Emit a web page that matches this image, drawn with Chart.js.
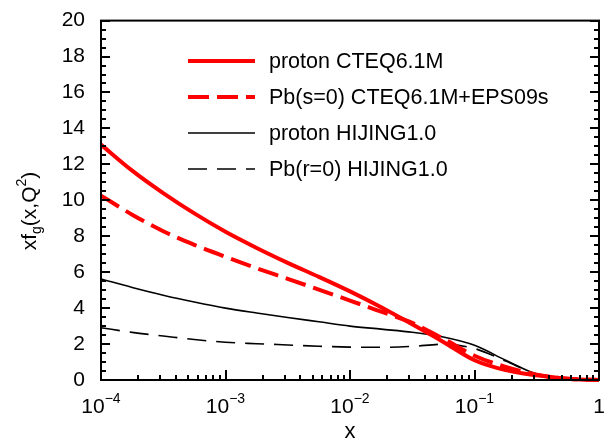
<!DOCTYPE html>
<html><head><meta charset="utf-8">
<script src="https://cdn.jsdelivr.net/npm/chart.js@4/dist/chart.umd.min.js"></script>
<style>html,body{margin:0;padding:0;background:#fff;}</style>
</head><body>
<canvas id="c" width="612" height="441"></canvas>
<script>
// ---- data ----
const xValues      = [0.0001, 0.000178, 0.000316, 0.000562, 0.001, 0.00178, 0.00316, 0.00562, 0.01, 0.0178, 0.0316, 0.0562, 0.1, 0.178, 0.316, 0.5, 0.708, 1.0];
const protonCTEQ   = [13.1, 11.65, 10.4, 9.27, 8.25, 7.35, 6.52, 5.74, 4.93, 4.05, 3.1, 2.12, 1.1, 0.55, 0.26, 0.1, 0.03, 0.0];
const pbEPS09      = [10.26, 9.2, 8.28, 7.52, 6.85, 6.22, 5.63, 5.03, 4.42, 3.8, 3.18, 2.3, 1.35, 0.73, 0.3, 0.1, 0.03, 0.0];
const protonHIJING = [5.62, 5.15, 4.72, 4.34, 4.0, 3.73, 3.48, 3.24, 3.0, 2.83, 2.66, 2.39, 1.93, 1.1, 0.33, 0.05, 0.01, 0.0];
const pbHIJING     = [2.91, 2.65, 2.45, 2.25, 2.1, 2.02, 1.95, 1.88, 1.83, 1.82, 1.87, 1.99, 1.75, 1.05, 0.33, 0.05, 0.01, 0.0];
const seriesLabels = ['proton CTEQ6.1M', 'Pb(s=0) CTEQ6.1M+EPS09s', 'proton HIJING1.0', 'Pb(r=0) HIJING1.0'];
const xTickValues  = [0.0001, 0.001, 0.01, 0.1, 1];
const xTickBase    = ['10', '10', '10', '10', '1'];
const xTickExp     = ['\u22124', '\u22123', '\u22122', '\u22121', ''];
const yMin = 0, yMax = 20, yStep = 2;
const xTitle = 'x';

const FONT = '"Liberation Sans", Arial, Helvetica, sans-serif';

function pts(arr){ return xValues.map((x,i)=>({x:x, y:arr[i]})); }

const seriesValues = [protonCTEQ, pbEPS09, protonHIJING, pbHIJING];
const styles = [
  {borderColor:'#ff0000', borderWidth:4, borderDash:[]},
  {borderColor:'#ff0000', borderWidth:4, borderDash:[21,8]},
  {borderColor:'#000000', borderWidth:1.6, borderDash:[]},
  {borderColor:'#000000', borderWidth:1.6, borderDash:[19,10]}
];

const datasets = seriesValues.map((arr,i)=>Object.assign({
  label: seriesLabels[i],
  data: pts(arr),
  pointRadius: 0,
  fill: false,
  cubicInterpolationMode: 'monotone',
  clip: false
}, styles[i]));

const framePlugin = {
  id: 'frame',
  afterDraw(chart){
    const ctx = chart.ctx, a = chart.chartArea;
    const xs = chart.scales.x, ys = chart.scales.y;
    ctx.save();
    ctx.strokeStyle = '#000'; ctx.lineWidth = 2;
    ctx.strokeRect(a.left, a.top, a.right - a.left, a.bottom - a.top);
    // y ticks (left and right, inward)
    ctx.lineWidth = 2;
    ctx.beginPath();
    for (let v = yMin; v <= yMax + 1e-9; v += 0.5) {
      const py = Math.round(ys.getPixelForValue(v));
      const len = (Math.abs(v % yStep) < 1e-9) ? 9 : 5;
      ctx.moveTo(a.left, py); ctx.lineTo(a.left + len, py);
      ctx.moveTo(a.right, py); ctx.lineTo(a.right - len, py);
    }
    // x ticks (bottom, inward)
    for (let d = -4; d <= -1; d++) {
      for (let m = 1; m <= 9; m++) {
        const v = m * Math.pow(10, d);
        const px = Math.round(xs.getPixelForValue(v));
        const len = m === 1 ? 10 : 5;
        ctx.moveTo(px, a.bottom); ctx.lineTo(px, a.bottom - len);
      }
    }
    ctx.stroke();
    // x tick labels with superscripts
    ctx.fillStyle = '#000';
    ctx.textBaseline = 'alphabetic';
    ctx.textAlign = 'left';
    xTickValues.forEach((v,i)=>{
      const px = xs.getPixelForValue(v);
      ctx.font = '21px ' + FONT;
      const wb = ctx.measureText(xTickBase[i]).width;
      ctx.font = '14px ' + FONT;
      const we = xTickExp[i] ? ctx.measureText(xTickExp[i]).width : 0;
      const x0 = px - (wb + we) / 2;
      ctx.font = '21px ' + FONT;
      ctx.fillText(xTickBase[i], x0, a.bottom + 33);
      if (xTickExp[i]) {
        ctx.font = '14px ' + FONT;
        ctx.fillText(xTickExp[i], x0 + wb, a.bottom + 23);
      }
    });
    // x title
    ctx.font = '22px ' + FONT;
    ctx.textAlign = 'center';
    ctx.fillText(xTitle, (a.left + a.right) / 2, 438);
    // y title: xf_g(x,Q^2)
    const parts = [
      {t:'xf', s:21, dy:0}, {t:'g', s:14, dy:5}, {t:'(x,Q', s:21, dy:0},
      {t:'2', s:14, dy:-10}, {t:')', s:21, dy:0}
    ];
    let total = 0;
    parts.forEach(p=>{ ctx.font = p.s + 'px ' + FONT; p.w = ctx.measureText(p.t).width; total += p.w; });
    ctx.save();
    ctx.translate(36, 211);
    ctx.rotate(-Math.PI/2);
    ctx.textAlign = 'left';
    let sx = -total/2;
    parts.forEach(p=>{ ctx.font = p.s + 'px ' + FONT; ctx.fillText(p.t, sx, p.dy); sx += p.w; });
    ctx.restore();
    // legend
    const ly = [61, 97, 133, 169];
    chart.data.datasets.forEach((ds,i)=>{
      ctx.save();
      ctx.strokeStyle = ds.borderColor;
      ctx.lineWidth = ds.borderWidth;
      ctx.setLineDash(ds.borderDash || []);
      ctx.beginPath();
      ctx.moveTo(188, ly[i]); ctx.lineTo(255, ly[i]);
      ctx.stroke();
      ctx.restore();
      ctx.font = '21.5px ' + FONT;
      ctx.fillStyle = '#000';
      ctx.textAlign = 'left';
      ctx.textBaseline = 'middle';
      ctx.fillText(ds.label, 269, ly[i] + 1);
    });
    ctx.restore();
  }
};

new Chart(document.getElementById('c'), {
  type: 'line',
  data: { datasets: datasets },
  options: {
    responsive: false,
    animation: false,
    devicePixelRatio: 1,
    layout: { padding: { top: 18, right: 13, left: 0, bottom: 0 } },
    plugins: { legend: { display: false }, tooltip: { enabled: false } },
    scales: {
      x: {
        type: 'logarithmic', min: 0.0001, max: 1, position: 'bottom',
        grid: { display: false }, border: { display: false },
        ticks: { display: false },
        afterBuildTicks: s => { s.ticks = xTickValues.map(v=>({value:v})); },
        afterFit: s => { s.height = 61; }
      },
      y: {
        type: 'linear', min: yMin, max: yMax,
        grid: { display: false }, border: { display: false },
        ticks: { stepSize: yStep, color: '#000', padding: 8, font: { family: FONT, size: 21 } },
        afterFit: s => { s.width = 101; }
      }
    }
  },
  plugins: [framePlugin]
});
</script>
</body></html>
